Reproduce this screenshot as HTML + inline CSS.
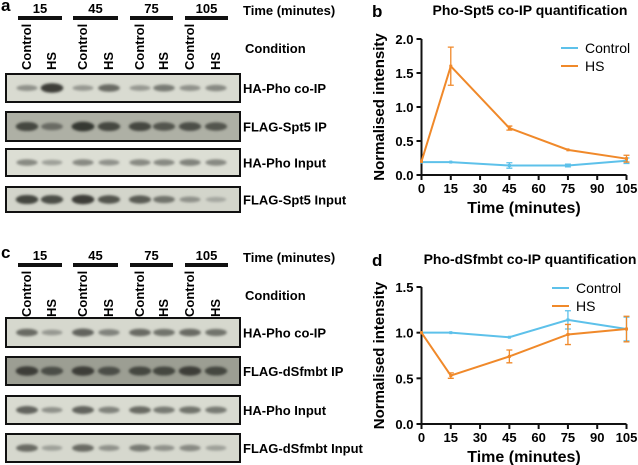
<!DOCTYPE html>
<html><head><meta charset="utf-8"><style>
html,body{margin:0;padding:0;background:#fff;}
svg{display:block;font-family:"Liberation Sans",Arial,sans-serif;}
</style></head><body>
<svg id="fig" width="638" height="465" viewBox="0 0 638 465" xmlns="http://www.w3.org/2000/svg">
<defs>
<filter id="blur" x="-30%" y="-100%" width="160%" height="300%"><feGaussianBlur stdDeviation="1.2"/></filter>
</defs>
</svg>
<script>
// ---- chart data ----
const timesB = [0, 15, 45, 75, 105];
const controlB = [0.19, 0.19, 0.14, 0.14, 0.21];
const controlBErr = [0, 0, 0.04, 0.02, 0.04];
const hsB = [0.20, 1.60, 0.69, 0.37, 0.24];
const hsBErr = [0, 0.28, 0.03, 0, 0.05];
const timesD = [0, 15, 45, 75, 105];
const controlD = [1.00, 1.00, 0.95, 1.14, 1.04];
const controlDErr = [0, 0, 0, 0.10, 0.13];
const hsD = [1.00, 0.53, 0.74, 0.98, 1.04];
const hsDErr = [0, 0.03, 0.07, 0.11, 0.14];
const xTicks = [0, 15, 30, 45, 60, 75, 90, 105];
const yTicksB = ["0.0", "0.5", "1.0", "1.5", "2.0"];
const yTicksD = ["0.0", "0.5", "1.0", "1.5"];
// blot band intensities (0..1 darkness) per row per lane
const blotA = [[0.35,0.9,0.3,0.6,0.3,0.5,0.35,0.4],[0.85,0.6,0.95,0.85,0.85,0.75,0.8,0.75],[0.4,0.25,0.4,0.35,0.4,0.4,0.45,0.4],[0.85,0.8,0.9,0.75,0.7,0.55,0.35,0.2]];
const blotC = [[0.6,0.3,0.65,0.45,0.6,0.55,0.6,0.55],[0.9,0.8,0.9,0.8,0.85,0.85,0.9,0.85],[0.65,0.35,0.65,0.45,0.6,0.5,0.55,0.5],[0.6,0.25,0.6,0.35,0.5,0.35,0.4,0.25]];
const rowNamesA = ["HA-Pho co-IP","FLAG-Spt5 IP","HA-Pho Input","FLAG-Spt5 Input"];
const rowNamesC = ["HA-Pho co-IP","FLAG-dSfmbt IP","HA-Pho Input","FLAG-dSfmbt Input"];
const groupLabels = ["15","45","75","105"];

const svg = document.getElementById('fig');
const NS = 'http://www.w3.org/2000/svg';
function mk(tag, attrs, parent, text){
  const e = document.createElementNS(NS, tag);
  for (const k in attrs) e.setAttribute(k, attrs[k]);
  if (text !== undefined) e.textContent = text;
  (parent||svg).appendChild(e);
  return e;
}

const laneX = [27,52,83,109,140,164,190,216];
const bars = [[18,62],[73,118],[130,173],[185,228]];
const rowBg = ['#d9dbd1','#aeb0a5','#dcded4','#d3d5cb'];
const rowBgC = ['#d6d8ce','#9c9e93','#d9dbd1','#d6d8ce'];

function blotPanel(letter, oy, rows, names, labelYs, bgs){
  const g = mk('g', {});
  
  
  const lt = mk('text', {x:1, y:oy+11, 'font-size':17, 'font-weight':'bold'}, g, letter);
  
  
  groupLabels.forEach((t,i)=>{
    const b = mk('rect', {x:bars[i][0], y:oy+16, width:bars[i][1]-bars[i][0], height:4, fill:'#111'}, g);
    
    
    const tx = mk('text', {x:(bars[i][0]+bars[i][1])/2, y:oy+13, 'font-size':13, 'font-weight':'bold', 'text-anchor':'middle'}, g, t);
    
    
  });
  const tm = mk('text', {x:243, y:oy+15, 'font-size':13, 'font-weight':'bold'}, g, 'Time (minutes)');
  
  
  const cd = mk('text', {x:245, y:oy+53, 'font-size':13, 'font-weight':'bold'}, g, 'Condition');
  
  
  laneX.forEach((x,i)=>{
    const t = mk('text', {x:0, y:0, 'font-size':13, 'font-weight':'bold', transform:`translate(${x+4},${oy+70}) rotate(-90)`}, g, i%2==0?'Control':'HS');
    
    
  });
  rows.forEach((row,r)=>{
    const [y0,y1] = labelYs[r];
    const rg = mk('g', {}, g);
    
    
    mk('rect', {x:6, y:oy+y0, width:234, height:y1-y0, fill:bgs[r], stroke:'#111', 'stroke-width':2}, rg);
    row.forEach((v,i)=>{
      const c = Math.round(200 - v*150);
      const e = mk('ellipse', {cx:laneX[i], cy:oy+(y0+y1)/2, rx:10+v*1.5, ry:2+v*3, fill:`rgb(${c-5},${c-3},${c-10})`, filter:'url(#blur)'}, rg);
      
      
    });
    const nt = mk('text', {x:243, y:oy+(y0+y1)/2+5, 'font-size':13, 'font-weight':'bold'}, g, names[r]);
    
    
  });
}
blotPanel('a', 0, blotA, rowNamesA, [[74,102],[112,141],[149,176],[187,212]], rowBg);
blotPanel('c', 247, blotC, rowNamesC, [[71,100],[110,138],[149,177],[187,215]], rowBgC);

function chart(letter, title, opts){
  const {x0,x1,y0,y1,ymax,yt,oyTitle,legY, tx, ctl, ctlE, hs, hsE} = opts;
  const g = mk('g', {});
  
  
  const X = v => x0 + (v/105)*(x1-x0);
  const Y = v => y0 - (v/ymax)*(y0-y1);
  const lt = mk('text', {x:372, y:oyTitle+2, 'font-size':17, 'font-weight':'bold'}, g, letter);
  
  
  const tt = mk('text', {x:530, y:oyTitle, 'font-size':14, 'font-weight':'bold', 'text-anchor':'middle'}, g, title);
  
  
  const ya = mk('line', {x1:x0, y1:y0, x2:x0, y2:Y(ymax), stroke:'#111', 'stroke-width':2}, g);
  
  
  const xa = mk('line', {x1:x0-1, y1:y0, x2:x1, y2:y0, stroke:'#111', 'stroke-width':2}, g);
  
  
  yt.forEach(s=>{
    const v = parseFloat(s);
    mk('line', {x1:x0-5, y1:Y(v), x2:x0, y2:Y(v), stroke:'#111', 'stroke-width':2}, g);
    const t = mk('text', {x:x0-8, y:Y(v)+5, 'font-size':13, 'font-weight':'bold', 'text-anchor':'end'}, g, s);
    
    
  });
  xTicks.forEach(v=>{
    mk('line', {x1:X(v), y1:y0, x2:X(v), y2:y0+5, stroke:'#111', 'stroke-width':2}, g);
    const t = mk('text', {x:X(v), y:y0+18, 'font-size':13, 'font-weight':'bold', 'text-anchor':'middle'}, g, String(v));
    
    
  });
  const xt = mk('text', {x:(x0+x1)/2, y:y0+38, 'font-size':16, 'font-weight':'bold', 'text-anchor':'middle'}, g, 'Time (minutes)');
  
  
  const yc = (y0+Y(ymax))/2;
  const ytl = mk('text', {x:0, y:0, 'font-size':15, 'font-weight':'bold', 'text-anchor':'middle', transform:`translate(384,${yc}) rotate(-90)`}, g, 'Normalised intensity');
  
  
  const series = [['control', ctl, ctlE, '#5dc1ea'], ['hs', hs, hsE, '#f0892a']];
  series.forEach(([nm, vals, errs, col])=>{
    const pts = vals.map((v,i)=>X(tx[i])+','+Y(v)).join(' ');
    const pl = mk('polyline', {points:pts, fill:'none', stroke:col, 'stroke-width':2}, g);
    
    
    vals.forEach((v,i)=>{
      const x = X(tx[i]);
      if (errs[i] > 0){
        const eb = mk('path', {d:`M${x},${Y(v-errs[i])}V${Y(v+errs[i])}M${x-3},${Y(v-errs[i])}h6M${x-3},${Y(v+errs[i])}h6`, stroke:col, 'stroke-width':1.3, fill:'none'}, g);
        
        
      }
      const m = mk('rect', {x:x-1.5, y:Y(v)-1.5, width:3, height:3, fill:col}, g);
      
      
    });
  });
  [['Control','#5dc1ea',legY],['HS','#f0892a',legY+18]].forEach(([n,c,y])=>{
    const lg = mk('g', {}, g);
    
    
    mk('line', {x1:opts.legX, y1:y, x2:opts.legX+17, y2:y, stroke:c, 'stroke-width':2}, lg);
    mk('text', {x:opts.legX+24, y:y+5, 'font-size':14}, lg, n);
  });
}
chart('b', 'Pho-Spt5 co-IP quantification', {x0:421.5, x1:626.5, y0:175, y1:39, ymax:2.0, yt:yTicksB, oyTitle:15, legY:48, legX:561, tx:timesB, ctl:controlB, ctlE:controlBErr, hs:hsB, hsE:hsBErr});
chart('d', 'Pho-dSfmbt co-IP quantification', {x0:421.5, x1:626.5, y0:424, y1:287, ymax:1.5, yt:yTicksD, oyTitle:264, legY:288, legX:552, tx:timesD, ctl:controlD, ctlE:controlDErr, hs:hsD, hsE:hsDErr});
</script>
</body></html>
